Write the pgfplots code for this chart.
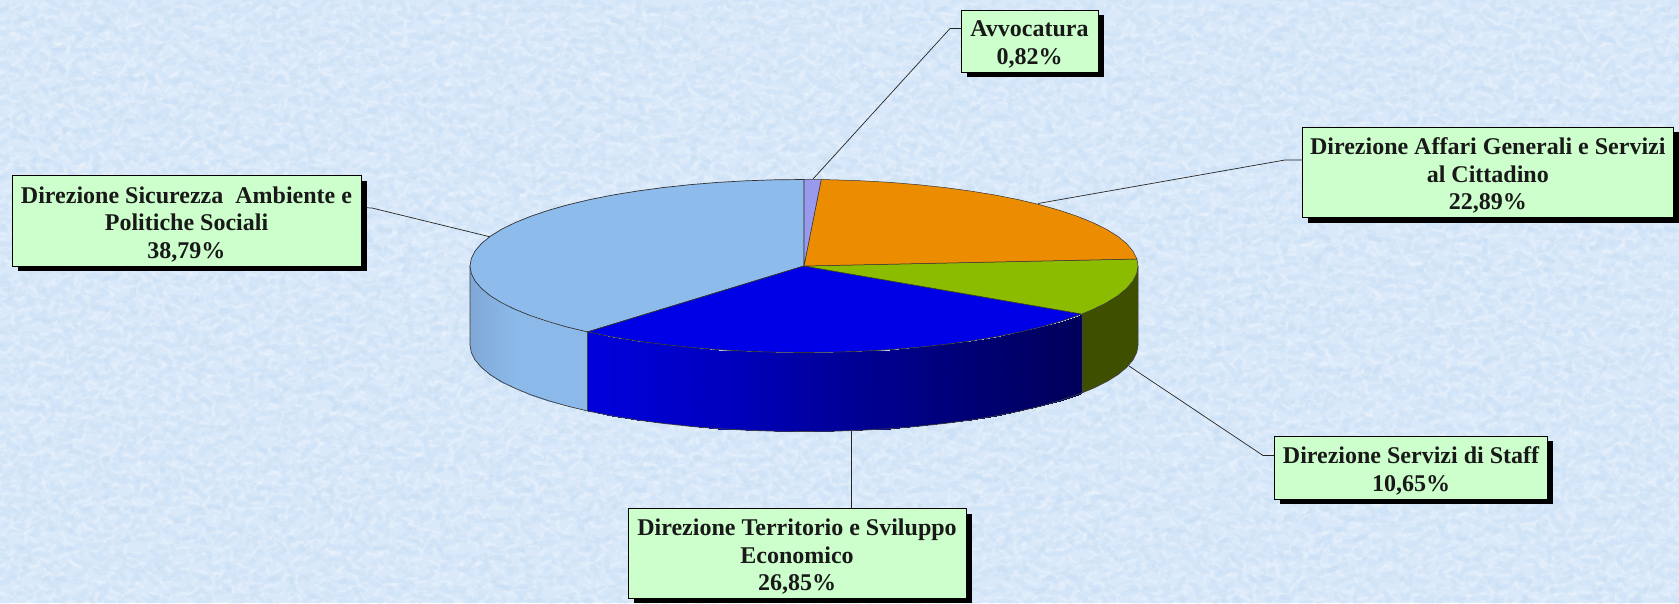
\documentclass[border=0pt]{standalone}
\usepackage{fontspec}
\setmainfont{Liberation Serif}
\usepackage{pgfplots}
\pgfplotsset{compat=1.18}
\usetikzlibrary{decorations.pathmorphing}

\definecolor{bgblue}{HTML}{D9E9F9}
\definecolor{bgvein}{HTML}{BBD6F3}
\definecolor{boxgreen}{HTML}{CCFFCC}
\definecolor{avv}{HTML}{9999EE}
\definecolor{aff}{HTML}{EC8C00}
\definecolor{staff}{HTML}{8CBC00}
\definecolor{staffside}{HTML}{3F4F00}
\definecolor{terr}{HTML}{0000E6}
\definecolor{sic}{HTML}{8DBBEB}

\pgfplotsset{
  colormap={terrside}{rgb255(0cm)=(0,0,220); rgb255(28cm)=(0,0,190); rgb255(53cm)=(0,0,150); rgb255(75cm)=(0,0,120); rgb255(100cm)=(0,0,90)},
  colormap={sicside}{rgb255(0cm)=(128,168,214); rgb255(40cm)=(139,186,234); rgb255(100cm)=(139,186,234)},
}

% callout: box with its shadow, text in the middle
\newcommand{\callout}[5]{%
  \fill[black] (axis cs:#1+5.5,#2+5) rectangle (axis cs:#3+5.5,#4+5);
  \draw[black,line width=0.9pt,fill=boxgreen] (axis cs:#1,#2) rectangle (axis cs:#3,#4);
  \node[align=center,inner sep=0pt,text=black!90,font=\fontsize{24}{27.5}\selectfont\bfseries]
    at (axis cs:{(#1+#3)/2},{(#2+#4)/2+3.5}) {#5};
}

\begin{document}
\begin{tikzpicture}
\pgfmathsetseed{42}
\begin{axis}[
    scale only axis,
    width=1679pt, height=603pt,
    xmin=0, xmax=1679,
    ymin=0, ymax=603,
    y dir=reverse,
    hide axis,
    clip=true,
    point meta rel=per plot,
  ]

  % background
  \addplot[fill=bgblue,draw=none] coordinates {(0,0) (1679,0) (1679,603) (0,603)} -- cycle;
  % mottled paper texture, background only
  \pgfplotsinvokeforeach{4,14,...,604}{
    \draw[overlay,bgvein,opacity=0.22,line width=5pt,line join=round,line cap=round,dash pattern=on 14pt off 9pt,decorate,decoration={random steps,segment length=7pt,amplitude=8pt}]
      (axis cs:-5,#1) -- (axis cs:1685,#1);
    \draw[overlay,white,opacity=0.22,line width=3pt,line join=round,line cap=round,dash pattern=on 11pt off 8pt,decorate,decoration={random steps,segment length=6pt,amplitude=7pt}]
      (axis cs:-5,#1+5) -- (axis cs:1685,#1+5);
  }

  % side of the disc, Sicurezza
  \addplot[surf,shader=interp,colormap name=sicside,point meta=x,mesh/rows=2,mesh/ordering=x varies] table {
    x y
    587.6 331.9
    567.8 327.2
    548.2 321.6
    530.4 315.6
    514.8 309.25
    501.3 302.6
    490.1 295.6
    481.4 288.4
    475.1 281.0
    471.3 273.5
    470.0 266.0
    587.6 410.9
    567.8 406.2
    548.2 400.6
    530.4 394.6
    514.8 388.25
    501.3 381.6
    490.1 374.6
    481.4 367.4
    475.1 360.0
    471.3 352.5
    470.0 345.0
  };

  % side of the disc, Territorio
  \addplot[surf,shader=interp,colormap name=terrside,point meta=x,mesh/rows=2,mesh/ordering=x varies] table {
    x y
    1081.9 314.0
    1077.6 315.6
    1059.8 321.6
    1040.2 327.2
    1018.7 332.3
    995.6 336.9
    971.0 340.9
    945.2 344.4
    918.2 347.3
    890.4 349.6
    862.0 351.2
    833.1 352.2
    804.0 352.5
    774.9 352.2
    746.0 351.2
    717.6 349.6
    689.8 347.3
    662.8 344.4
    637.0 340.9
    612.4 336.9
    589.3 332.3
    587.6 331.9
    1081.9 393.0
    1077.6 394.6
    1059.8 400.6
    1040.2 406.2
    1018.7 411.3
    995.6 415.9
    971.0 419.9
    945.2 423.4
    918.2 426.3
    890.4 428.6
    862.0 430.2
    833.1 431.2
    804.0 431.5
    774.9 431.2
    746.0 430.2
    717.6 428.6
    689.8 426.3
    662.8 423.4
    637.0 419.9
    612.4 415.9
    589.3 411.3
    587.6 410.9
  };

  % side of the disc, Staff
  \addplot[fill=staffside,draw=none] coordinates {
    (1138,266) (1136.7,273.5) (1132.9,281) (1126.6,288.4) (1117.9,295.6) (1106.7,302.6) (1093.2,309.25) (1081.9,314)
    (1081.9,393) (1093.2,388.25) (1106.7,381.6) (1117.9,374.6) (1126.6,367.4) (1132.9,360) (1136.7,352.5) (1138,345)
  } -- cycle;

  % outline of the side
  \addplot[draw=black!75,line width=0.7pt] coordinates {
    (1138,266) (1138,345) (1136.7,352.5) (1132.9,360) (1126.6,367.4) (1117.9,374.6) (1106.7,381.6) (1093.2,388.25) (1077.6,394.6)
    (1059.8,400.6) (1040.2,406.2) (1018.7,411.3) (995.6,415.9) (971,419.9) (945.2,423.4) (918.2,426.3) (890.4,428.6) (862,430.2) (833.1,431.2)
    (804,431.5) (774.9,431.2) (746,430.2) (717.6,428.6) (689.8,426.3) (662.8,423.4) (637,419.9) (612.4,415.9) (589.3,411.3)
    (567.8,406.2) (548.2,400.6) (530.4,394.6) (514.8,388.25) (501.3,381.6) (490.1,374.6) (481.4,367.4) (475.1,360) (471.3,352.5) (470,345) (470,266)
  };
  \addplot[draw=black!75,line width=1pt] coordinates {(587.6,331.9) (587.6,410.9)};
  \addplot[draw=black!75,line width=0.7pt] coordinates {(1081.9,314) (1081.9,393)};

  % top: Sicurezza 38,79
  \addplot[fill=sic,draw=black!80,line width=0.7pt] coordinates {
    (804,266) (587.6,331.9) (567.8,327.2) (548.2,321.6) (530.4,315.6) (514.8,309.25) (501.3,302.6) (490.1,295.6) (481.4,288.4) (475.1,281) (471.3,273.5)
    (470,266) (471.3,258.5) (475.1,251) (481.4,243.6) (490.1,236.4) (501.3,229.4) (514.8,222.75) (530.4,216.4) (548.2,210.4) (567.8,204.8)
    (589.3,199.7) (612.4,195.1) (637,191.1) (662.8,187.6) (689.8,184.7) (717.6,182.4) (746,180.8) (774.9,179.8) (804,179.5)
  } -- cycle;

  % top: Territorio 26,85
  \addplot[fill=terr,draw=black!80,line width=0.7pt] coordinates {
    (804,266) (1081.9,314) (1077.6,315.6) (1059.8,321.6) (1040.2,327.2) (1018.7,332.3) (995.6,336.9) (971,340.9) (945.2,344.4) (918.2,347.3) (890.4,349.6)
    (862,351.2) (833.1,352.2) (804,352.5) (774.9,352.2) (746,351.2) (717.6,349.6) (689.8,347.3) (662.8,344.4) (637,340.9) (612.4,336.9) (589.3,332.3) (587.6,331.9)
  } -- cycle;

  % top: Staff 10,65
  \addplot[fill=staff,draw=black!80,line width=0.5pt] coordinates {
    (804,266) (1136.9,259) (1138,266) (1136.7,273.5) (1132.9,281) (1126.6,288.4) (1117.9,295.6) (1106.7,302.6) (1093.2,309.25) (1081.9,314)
  } -- cycle;

  % top: Affari 22,89
  \addplot[fill=aff,draw=black!80,line width=0.5pt] coordinates {
    (804,266) (821.2,179.6) (833.1,179.8) (862,180.8) (890.4,182.4) (918.2,184.7) (945.2,187.6) (971,191.1) (995.6,195.1) (1018.7,199.7) (1040.2,204.8)
    (1059.8,210.4) (1077.6,216.4) (1093.2,222.75) (1106.7,229.4) (1117.9,236.4) (1126.6,243.6) (1132.9,251) (1136.7,258.5) (1136.9,259)
  } -- cycle;

  % top: Avvocatura 0,82
  \addplot[fill=avv,draw=black!80,line width=0.5pt] coordinates {
    (804,266) (804,179.5) (821.2,179.6)
  } -- cycle;

  % leader lines
  \addplot[draw=black!85,line width=0.7pt] coordinates {(961,28.5) (950,28.5) (813,179)};
  \addplot[draw=black!85,line width=0.7pt] coordinates {(1302,160) (1285,160) (1038,203.5)};
  \addplot[draw=black!85,line width=0.7pt] coordinates {(1274,455.5) (1263,455.5) (1129,366)};
  \addplot[draw=black!85,line width=0.7pt] coordinates {(851,431) (851,508)};
  \addplot[draw=black!85,line width=0.7pt] coordinates {(361,207.5) (372,208) (489.5,236.7)};

  % labels
  \callout{12}{175.5}{361}{266}{Direzione Sicurezza\ \ Ambiente e\\Politiche Sociali\\38,79\%}
  \callout{961}{10}{1098}{72}{Avvocatura\\0,82\%}
  \callout{1302}{127}{1673.5}{217.5}{Direzione Affari Generali e Servizi\\al Cittadino\\22,89\%}
  \callout{1274.5}{436}{1547.5}{499}{Direzione Servizi di Staff\\10,65\%}
  \callout{628}{508.5}{966}{598}{Direzione Territorio e Sviluppo\\Economico\\26,85\%}

\end{axis}
\end{tikzpicture}
\end{document}
